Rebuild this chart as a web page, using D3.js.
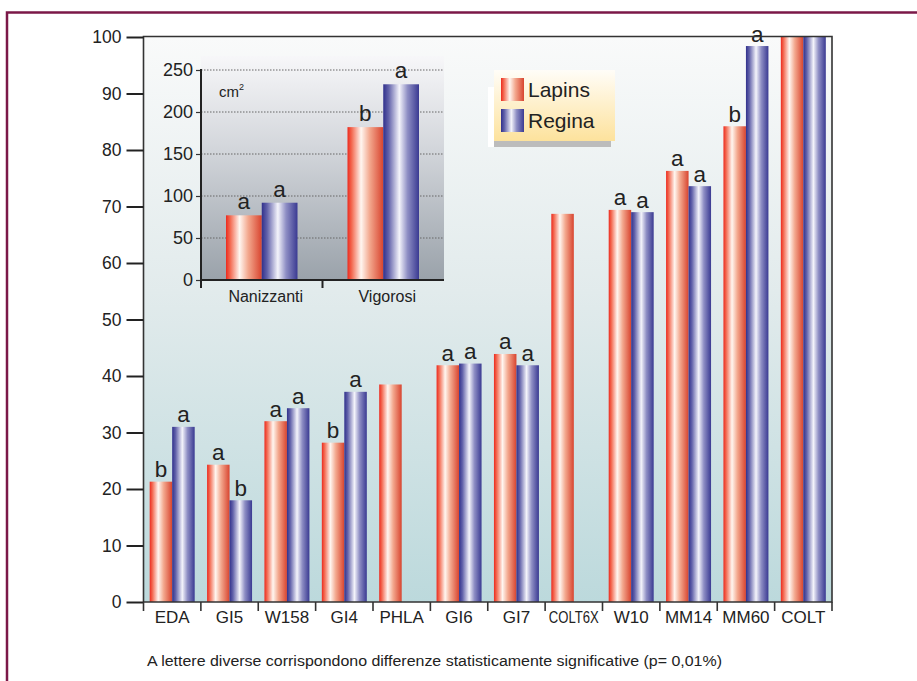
<!DOCTYPE html>
<html>
<head>
<meta charset="utf-8">
<script src="https://cdn.jsdelivr.net/npm/d3@7"></script>
<style>
  html, body { margin: 0; padding: 0; background: #ffffff; }
  svg text { font-family: "Liberation Sans", Arial, Helvetica, sans-serif; fill: #222; }
</style>
</head>
<body>
<svg id="chart" width="917" height="681"></svg>
<script>
// Rootstock vigour comparison (% of COLT), Lapins vs Regina
const categories = ["EDA", "GI5", "W158", "GI4", "PHLA", "GI6", "GI7", "COLT6X", "W10", "MM14", "MM60", "COLT"];
const series = ["Lapins", "Regina"];
const lapinsValues = [21.3, 24.3, 32.0, 28.2, 38.5, 41.9, 43.9, 68.7, 69.4, 76.3, 84.2, 100];
const reginaValues = [31.0, 18.0, 34.3, 37.2, null, 42.2, 41.9, null, 69.0, 73.6, 98.4, 100];
const lapinsLetters = ["b", "a", "a", "b", "", "a", "a", "", "a", "a", "b", ""];
const reginaLetters = ["a", "b", "a", "a", "", "a", "a", "", "a", "a", "a", ""];
const yTicks = [0, 10, 20, 30, 40, 50, 60, 70, 80, 90, 100];

// Inset: trunk cross-section area (cm²) by vigour group
const insetGroups = ["Nanizzanti", "Vigorosi"];
const insetLapins = [77, 182];
const insetRegina = [92, 233];
const insetLapinsLetters = ["a", "b"];
const insetReginaLetters = ["a", "a"];
const insetTicks = [0, 50, 100, 150, 200, 250];

const footnote = "A lettere diverse corrispondono differenze statisticamente significative (p= 0,01%)";

const svg = d3.select("#chart");
const defs = svg.append("defs");

function hGrad(id, stops) {
  const g = defs.append("linearGradient").attr("id", id)
    .attr("x1", 0).attr("x2", 1).attr("y1", 0).attr("y2", 0);
  stops.forEach(s => g.append("stop").attr("offset", s[0]).attr("stop-color", s[1]));
}
function vGrad(id, stops) {
  const g = defs.append("linearGradient").attr("id", id)
    .attr("x1", 0).attr("x2", 0).attr("y1", 0).attr("y2", 1);
  stops.forEach(s => g.append("stop").attr("offset", s[0]).attr("stop-color", s[1]));
}
hGrad("gradRed", [[0, "#ec2a1e"], [0.12, "#f36a52"], [0.38, "#fff6f0"], [0.62, "#f3a88e"], [1, "#d8442f"]]);
hGrad("gradBlue", [[0, "#30308c"], [0.15, "#6262aa"], [0.45, "#f4f4fb"], [0.68, "#8e8ec4"], [1, "#3a3a92"]]);
vGrad("gradBg", [[0, "#f9fafa"], [0.45, "#e2ebec"], [1, "#bcd9dc"]]);
vGrad("gradInset", [[0, "#f7f7f9"], [0.4, "#d4d7dc"], [1, "#9aa2aa"]]);
vGrad("gradLegend", [[0, "#fffdf8"], [1, "#fde29c"]]);
const fills = { Lapins: "url(#gradRed)", Regina: "url(#gradBlue)" };

// Outer frame (top and left edges visible)
svg.append("path").attr("d", "M7,917 L7,12.5 L917,12.5")
  .attr("fill", "none").attr("stroke", "#7b1848").attr("stroke-width", 2.5);

// ---------- main chart ----------
const plot = { left: 143.5, right: 832, top: 36.5, bottom: 602 };
const x = d3.scaleBand().domain(categories).range([plot.left, plot.right]).padding(0);
const xs = d3.scaleBand().domain(series).range([6.2, x.bandwidth() - 6.2]).padding(0);
const y = d3.scaleLinear().domain([0, 100]).range([plot.bottom, 37]);

svg.append("rect").attr("x", plot.left).attr("y", plot.top)
  .attr("width", plot.right - plot.left).attr("height", plot.bottom - plot.top)
  .attr("fill", "url(#gradBg)");

const rows = categories.map((c, i) => ({
  cat: c,
  vals: [
    { s: "Lapins", v: lapinsValues[i], l: lapinsLetters[i] },
    { s: "Regina", v: reginaValues[i], l: reginaLetters[i] }
  ].filter(d => d.v !== null)
}));

const grp = svg.append("g").selectAll("g").data(rows).join("g")
  .attr("transform", d => `translate(${x(d.cat)},0)`);
grp.selectAll("rect").data(d => d.vals).join("rect")
  .attr("x", d => xs(d.s)).attr("width", xs.bandwidth())
  .attr("y", d => y(d.v)).attr("height", d => y(0) - y(d.v))
  .attr("fill", d => fills[d.s]);
grp.selectAll("text.sig").data(d => d.vals.filter(v => v.l)).join("text")
  .attr("class", "sig")
  .attr("x", d => xs(d.s) + xs.bandwidth() / 2).attr("y", d => y(d.v) - 4.5)
  .attr("text-anchor", "middle").attr("font-size", 22.5).text(d => d.l);

// frame
svg.append("path")
  .attr("d", `M${plot.left},${plot.bottom} L${plot.left},${plot.top} L${plot.right},${plot.top} L${plot.right},${plot.bottom} Z`)
  .attr("fill", "none").attr("stroke", "#333").attr("stroke-width", 1.6);

// y axis
const yAxis = svg.append("g").attr("transform", `translate(${plot.left},0)`)
  .call(d3.axisLeft(y).tickValues(yTicks).tickSize(17).tickPadding(5));
yAxis.select(".domain").remove();
yAxis.selectAll("line").attr("stroke", "#222").attr("stroke-width", 2);
yAxis.selectAll("text").attr("font-size", 17.5).attr("fill", "#222");

// x axis: boundary ticks + category labels
const bounds = categories.map(c => x(c)).concat([x.range()[1]]);
svg.append("g").selectAll("line").data(bounds).join("line")
  .attr("x1", d => d).attr("x2", d => d)
  .attr("y1", plot.bottom).attr("y2", plot.bottom + 9)
  .attr("stroke", "#333").attr("stroke-width", 1.6);
const xlab = svg.append("g").selectAll("text").data(categories).join("text")
  .attr("x", d => x(d) + x.bandwidth() / 2).attr("y", 623)
  .attr("text-anchor", "middle").attr("font-size", 17).text(d => d);
xlab.filter(d => d === "COLT6X").attr("textLength", 50).attr("lengthAdjust", "spacingAndGlyphs")
  .attr("font-size", 16.5);

// ---------- inset ----------
const inset = { left: 201, right: 444, top: 56, bottom: 280 };
const ix = d3.scaleBand().domain(insetGroups).range([inset.left, inset.right]).padding(0);
const ixs = d3.scaleBand().domain(series).range([25, ix.bandwidth() - 25]).padding(0);
const iy = d3.scaleLinear().domain([0, 250]).range([inset.bottom, 70]);

svg.append("rect").attr("x", inset.left).attr("y", inset.top)
  .attr("width", inset.right - inset.left).attr("height", inset.bottom - inset.top)
  .attr("fill", "url(#gradInset)");

svg.append("g").selectAll("line").data(insetTicks.filter(t => t > 0)).join("line")
  .attr("x1", inset.left).attr("x2", inset.right)
  .attr("y1", d => iy(d)).attr("y2", d => iy(d))
  .attr("stroke", "#666").attr("stroke-width", 1).attr("stroke-dasharray", "1.5,1.5");

const insetRows = insetGroups.map((g, i) => ({
  g,
  vals: [
    { s: "Lapins", v: insetLapins[i], l: insetLapinsLetters[i] },
    { s: "Regina", v: insetRegina[i], l: insetReginaLetters[i] }
  ]
}));
const igrp = svg.append("g").selectAll("g").data(insetRows).join("g")
  .attr("transform", d => `translate(${ix(d.g)},0)`);
igrp.selectAll("rect").data(d => d.vals).join("rect")
  .attr("x", d => ixs(d.s)).attr("width", ixs.bandwidth())
  .attr("y", d => iy(d.v)).attr("height", d => iy(0) - iy(d.v))
  .attr("fill", d => fills[d.s]);
igrp.selectAll("text").data(d => d.vals).join("text")
  .attr("x", d => ixs(d.s) + ixs.bandwidth() / 2).attr("y", d => iy(d.v) - 6)
  .attr("text-anchor", "middle").attr("font-size", 22.5).text(d => d.l);

// inset axes
const iyAxis = svg.append("g").attr("transform", `translate(${inset.left},0)`)
  .call(d3.axisLeft(iy).tickValues(insetTicks).tickSize(5).tickPadding(3));
iyAxis.select(".domain").remove();
iyAxis.selectAll("line").attr("stroke", "#333").attr("stroke-width", 1.2);
iyAxis.selectAll("text").attr("font-size", 18).attr("fill", "#222");
svg.append("line").attr("x1", inset.left).attr("x2", inset.left)
  .attr("y1", 69).attr("y2", inset.bottom + 8).attr("stroke", "#222").attr("stroke-width", 2);
svg.append("line").attr("x1", inset.left).attr("x2", inset.right)
  .attr("y1", inset.bottom).attr("y2", inset.bottom).attr("stroke", "#222").attr("stroke-width", 2);
const ibounds = insetGroups.map(g => ix(g)).slice(1);
svg.append("g").selectAll("line").data(ibounds).join("line")
  .attr("x1", d => d).attr("x2", d => d)
  .attr("y1", inset.bottom).attr("y2", inset.bottom + 8)
  .attr("stroke", "#222").attr("stroke-width", 2);
svg.append("g").selectAll("text").data(insetGroups).join("text")
  .attr("x", d => ix(d) + ix.bandwidth() / 2 + 4).attr("y", 302)
  .attr("text-anchor", "middle").attr("font-size", 16).text(d => d);
const cm = svg.append("text").attr("x", 219).attr("y", 97).attr("font-size", 15);
cm.append("tspan").text("cm");
cm.append("tspan").attr("font-size", 9).attr("dy", -7).text("2");

// ---------- legend ----------
const lg = svg.append("g");
lg.append("rect").attr("x", 488).attr("y", 141).attr("width", 123).attr("height", 6).attr("fill", "#bcbcbc");
lg.append("rect").attr("x", 488).attr("y", 87).attr("width", 6).attr("height", 60).attr("fill", "#ffffff");
lg.append("rect").attr("x", 494).attr("y", 70).attr("width", 121).attr("height", 71).attr("fill", "url(#gradLegend)");
series.forEach((s, i) => {
  lg.append("rect").attr("x", 501).attr("y", 78 + i * 31).attr("width", 23).attr("height", 23).attr("fill", fills[s]);
  lg.append("text").attr("x", 528).attr("y", 97 + i * 31).attr("font-size", 21).text(s);
});

// footnote
svg.append("text").attr("x", 147).attr("y", 666).attr("font-size", 14)
  .attr("textLength", 575).attr("lengthAdjust", "spacingAndGlyphs").text(footnote);
</script>
</body>
</html>
